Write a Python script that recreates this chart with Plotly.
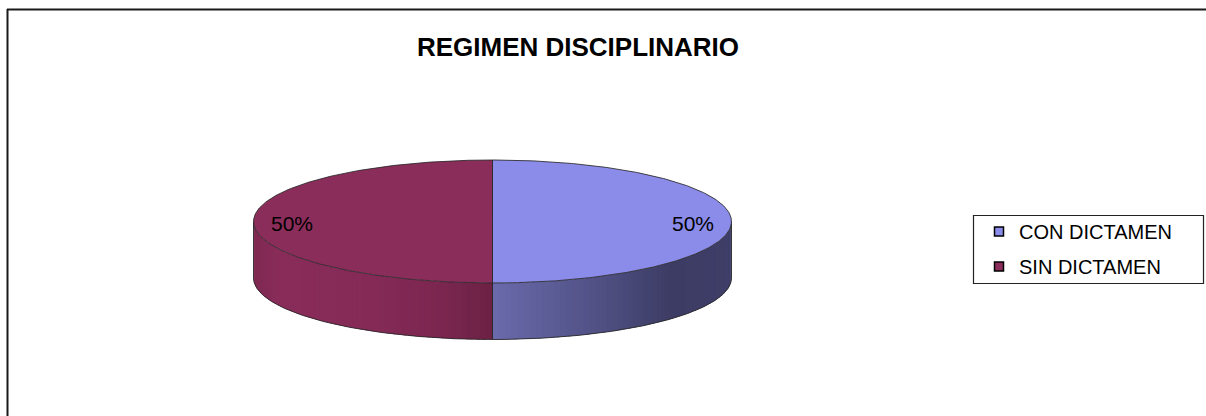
import numpy as np
import plotly.graph_objects as go

# ---- data ----
categories = ["CON DICTAMEN", "SIN DICTAMEN"]
values = [50, 50]
title_text = "REGIMEN DISCIPLINARIO"

# ---- styling ----
top_colors = ["rgb(139,139,234)", "rgb(139,45,90)"]
side_stops = [
    [(0.0, (106, 106, 172)), (0.45, (80, 80, 132)), (0.75, (60, 60, 100)), (1.0, (62, 62, 104))],
    [(-1.0, (126, 40, 82)), (-0.9, (137, 44, 89)), (-0.5, (133, 42, 87)), (-0.2, (122, 38, 79)), (0.0, (108, 33, 68))],
]
W, H = 1206, 416
OFF = 0  # body margin removed by post_script
cx, cy, rx, ry, depth = 492.5, 221.5, 239.0, 61.5, 56.5
edge = "rgba(40,40,40,0.85)"
FONT = "Liberation Sans, Arial"


def xp(px):
    return (px - OFF) / W


def yp(py):
    return 1 - (py - OFF) / H


def pt(theta_deg, dy=0.0):
    t = np.radians(theta_deg)
    return cx + rx * np.sin(t), cy - ry * np.cos(t) + dy


def interp_color(stops, t):
    ts = [s[0] for s in stops]
    t = min(max(t, ts[0]), ts[-1])
    for (t0, c0), (t1, c1) in zip(stops[:-1], stops[1:]):
        if t0 <= t <= t1:
            f = 0 if t1 == t0 else (t - t0) / (t1 - t0)
            c = [round(a + (b - a) * f) for a, b in zip(c0, c1)]
            return "rgb(%d,%d,%d)" % tuple(c)
    return "rgb(%d,%d,%d)" % stops[-1][1]


fig = go.Figure()

total = sum(values)
starts = np.cumsum([0] + values[:-1]) / total * 360
ends = np.cumsum(values) / total * 360

# side faces (front half visible: 90..270)
for i, (a0, a1) in enumerate(zip(starts, ends)):
    s0, s1 = max(a0, 90), min(a1, 270)
    if s1 <= s0:
        continue
    n = 60
    edges_ = np.linspace(s0, s1, n + 1)
    for k in range(n):
        e1 = min(edges_[k + 1] + 1.2, s1)
        th = np.linspace(edges_[k], e1, 6)
        xs_top, ys_top = pt(th)
        xs_bot, ys_bot = pt(th[::-1], depth)
        xs = np.concatenate([xs_top, xs_bot, xs_top[:1]])
        ys = np.concatenate([ys_top, ys_bot, ys_top[:1]])
        tmid = np.sin(np.radians((edges_[k] + edges_[k + 1]) / 2))
        col = interp_color(side_stops[i], tmid)
        fig.add_trace(go.Scatter(x=xs, y=ys, mode="none", fill="toself", fillcolor=col,
                                 hoverinfo="skip", showlegend=False))
    th = np.linspace(s0, s1, 200)
    xb, yb = pt(th, depth)
    fig.add_trace(go.Scatter(x=xb, y=yb, mode="lines", line=dict(color=edge, width=1),
                             hoverinfo="skip", showlegend=False))
    for a in (s0, s1):
        xa, ya = pt(a)
        fig.add_trace(go.Scatter(x=[xa, xa], y=[ya, ya + depth], mode="lines",
                                 line=dict(color=edge, width=1), hoverinfo="skip", showlegend=False))

# top faces
for i, (a0, a1) in enumerate(zip(starts, ends)):
    th = np.linspace(a0, a1, 300)
    xs, ys = pt(th)
    xs = np.concatenate([[cx], xs, [cx]])
    ys = np.concatenate([[cy], ys, [cy]])
    fig.add_trace(go.Scatter(x=xs, y=ys, mode="lines", fill="toself", fillcolor=top_colors[i],
                             line=dict(color=edge, width=1), hoverinfo="skip", showlegend=False))

# labels
for i, (a0, a1) in enumerate(zip(starts, ends)):
    mid = (a0 + a1) / 2
    t = np.radians(mid)
    lx = cx + 0.84 * rx * np.sin(t)
    ly = cy - 0.84 * ry * np.cos(t) + 2
    fig.add_annotation(x=lx, y=ly, xref="x", yref="y", text="%d%%" % round(values[i] / total * 100),
                       showarrow=False, font=dict(family=FONT, size=21, color="black"))

# legend entries
for i, name in enumerate(categories):
    fig.add_trace(go.Scatter(x=[None], y=[None], mode="markers", name=name, legendgroup=name,
                             marker=dict(symbol="square", size=9, color=top_colors[i],
                                         line=dict(color="black", width=1.5))))

fig.update_layout(
    width=W, height=H,
    margin=dict(l=0, r=0, t=0, b=0),
    paper_bgcolor="white", plot_bgcolor="white",
    xaxis=dict(range=[OFF, OFF + W], visible=False, fixedrange=True),
    yaxis=dict(range=[OFF + H, OFF], visible=False, fixedrange=True),
    showlegend=True,
    legend=dict(x=xp(979), y=yp(212), xanchor="left", yanchor="top",
                borderwidth=0, bgcolor="rgba(0,0,0,0)",
                font=dict(family=FONT, size=20, color="black"),
                tracegroupgap=6, itemwidth=30),
    title=dict(text="<b>%s</b>" % title_text, x=xp(578), xanchor="center",
               y=yp(47), yanchor="middle",
               font=dict(family=FONT, size=26, color="black")),
    shapes=[
        dict(type="line", xref="paper", yref="paper", x0=xp(7), x1=1, y0=yp(9.5), y1=yp(9.5),
             line=dict(color="#1a1a1a", width=2)),
        dict(type="line", xref="paper", yref="paper", x0=xp(7.5), x1=xp(7.5), y0=0, y1=yp(9),
             line=dict(color="#1a1a1a", width=2)),
        dict(type="rect", xref="paper", yref="paper", x0=xp(973.5), x1=xp(1203.5), y0=yp(283.5), y1=yp(215.5),
             line=dict(color="#222222", width=1.2), layer="below"),
    ],
)

fig.write_html("out.html", config={"displayModeBar": False},
               post_script="document.body.style.margin='0px';document.body.style.overflow='hidden';")
